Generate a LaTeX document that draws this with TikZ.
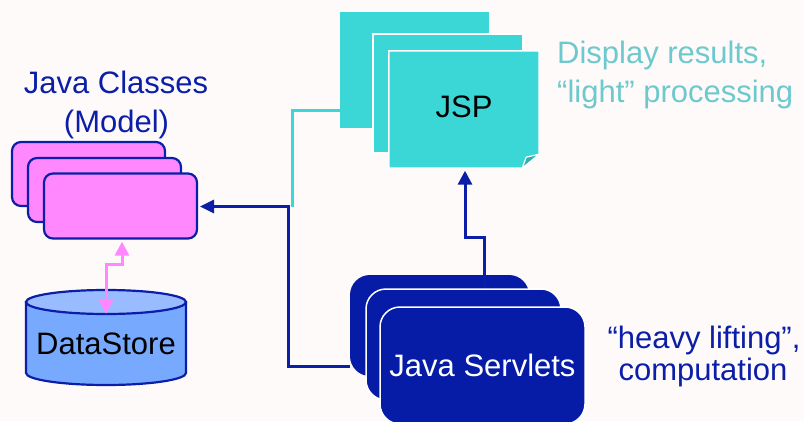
\documentclass[tikz,border=0pt]{standalone}
\usepackage{fontspec}
\setmainfont{Liberation Sans}
\usetikzlibrary{arrows.meta}
\definecolor{dblue}{HTML}{0A1EA8}
\definecolor{navyfill}{HTML}{061CA6}
\definecolor{jcyan}{HTML}{3BD6D6}
\definecolor{jcyandark}{HTML}{2FB0B0}
\definecolor{lcyan}{HTML}{6DC9CD}
\definecolor{mpink}{HTML}{FF88FF}
\definecolor{dsbody}{HTML}{77AAFF}
\definecolor{dstopc}{HTML}{99BBFF}
\definecolor{bgc}{HTML}{FFFAFA}
\begin{document}
\begin{tikzpicture}[x=1pt,y=-1pt,
  lbl/.style={font=\fontsize{31}{39}\selectfont, inner sep=0pt},
  clsbox/.style={draw=dblue, fill=mpink, line width=2.2pt, rounded corners=9pt, inner sep=0pt},
  jspsheet/.style={fill=jcyan, inner sep=0pt},
  srvbox/.style={fill=navyfill, rounded corners=20pt, inner sep=0pt},
  whiteedge/.style={draw=white, line width=1.5pt},
  link/.style={line width=3pt, draw=dblue},
  cyanlink/.style={line width=3pt, draw=jcyan},
  pinklink/.style={line width=3pt, draw=mpink},
]
\useasboundingbox (0,0) rectangle (804,421);
\fill[bgc] (0,0) rectangle (804,421);

% ---------- JSP stack ----------
\coordinate (ct) at (292.5,110);
\coordinate (jt) at (288,206.5);
\node[minimum width=150pt, minimum height=117pt, inner sep=0pt] (jsp3) at (464,109.5) {};
\draw[cyanlink] (jsp3.west |- ct) -- (ct) -- (ct |- jt);
\node[jspsheet, minimum width=149pt, minimum height=116pt] (jsp1) at (414.5,70) {};
\node[jspsheet, whiteedge, minimum width=150pt, minimum height=119pt] (jsp2) at (448,93.5) {};
\filldraw[fill=jcyan, draw=white, line width=1.5pt]
  (jsp3.north west) -- (jsp3.north east) -- ([yshift=14pt]jsp3.south east)
  -- ([xshift=-17pt]jsp3.south east) -- (jsp3.south west) -- cycle;
\filldraw[fill=jcyandark, draw=white, line width=1.2pt]
  ([yshift=14pt]jsp3.south east) -- ([xshift=-13pt,yshift=11pt]jsp3.south east)
  -- ([xshift=-17pt]jsp3.south east) -- cycle;
\node[lbl, anchor=base] (jsptext) at (464,117) {JSP};

% ---------- Servlets and connectors ----------
\node[minimum width=205pt, minimum height=117pt, inner sep=0pt] (srvpos) at (482.5,365.5) {};
\coordinate (jb) at (288,366);
\coordinate (ub) at (484,237);
\coordinate (ua) at (465,237);
\node[srvbox, minimum width=179pt, minimum height=101pt] (srv1) at (439.5,325.5) {};
\draw[link, -{Triangle[length=14pt,width=14pt]}, shorten >=2.5pt]
  (srvpos.north -| ub) -- (ub) -- (ua) -- (ua |- jsp3.south);
\draw[link, -{Triangle[length=14pt,width=13pt]}]
  (srv1.west |- jb) -- (jb) -- (jt) -- ([xshift=3pt]jt -| 197,0);
\node[srvbox, whiteedge, minimum width=195pt, minimum height=111pt] (srv2) at (463.5,344.5) {};
\node[srvbox, whiteedge, minimum width=205pt, minimum height=117pt, text=white, font=\fontsize{31}{39}\selectfont] (srv3) at (482.5,365.5) {Java Servlets};

% ---------- Java classes ----------
\node[clsbox, minimum width=153pt, minimum height=64pt] (cls1) at (88.5,174) {};
\node[clsbox, minimum width=153pt, minimum height=64pt] (cls2) at (104.5,190) {};
\node[clsbox, minimum width=153pt, minimum height=65pt] (cls3) at (120.5,206) {};

% ---------- DataStore cylinder ----------
\node[minimum width=160pt, minimum height=95pt, inner sep=0pt] (ds) at (106,337.5) {};
\filldraw[fill=dsbody, draw=dblue, line width=2.2pt]
  (26,302) -- (26,373) .. controls (26,379.6) and (61.8,385) .. (106,385)
  .. controls (150.2,385) and (186,379.6) .. (186,373) -- (186,302) -- cycle;
\filldraw[fill=dstopc, draw=dblue, line width=2.2pt] (106,302) ellipse [x radius=80, y radius=12];
\node[lbl, anchor=base] (dstext) at (106,354) {DataStore};

\draw[pinklink, {Triangle[length=14pt,width=14pt]}-{Triangle[length=14pt,width=14pt]}, shorten <=2pt]
  ([xshift=1.5pt]cls3.south) -- ++(0,25) -| ([yshift=-24pt]ds.north);

% ---------- Labels ----------
\node[lbl, text=dblue, anchor=base] (jc1) at (116,93) {Java Classes};
\node[lbl, text=dblue, anchor=base] (jc2) at (116.5,132) {(Model)};
\node[lbl, text=lcyan, anchor=base west] (dr1) at (557,63) {Display results,};
\node[lbl, text=lcyan, anchor=base west] (dr2) at (557,102) {“light” processing};
\node[lbl, text=dblue, anchor=base] (hl1) at (704,348) {“heavy lifting”,};
\node[lbl, text=dblue, anchor=base] (hl2) at (703,380) {computation};
\end{tikzpicture}
\end{document}
